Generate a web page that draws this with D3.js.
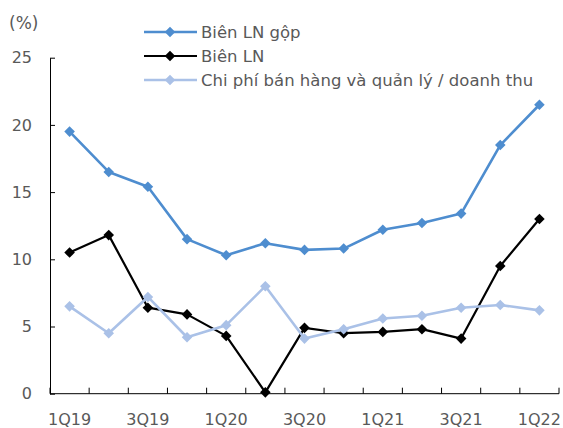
<!DOCTYPE html>
<html>
<head>
<meta charset="utf-8">
<script src="https://cdn.jsdelivr.net/npm/d3@7"></script>
<style>
  html, body { margin: 0; padding: 0; background: #fff; }
  svg text { font-family: "DejaVu Sans", Verdana, sans-serif; }
</style>
</head>
<body>
<svg id="chart" width="563" height="428"></svg>
<script>
// Quarterly margins (%)
const quarters = ["1Q19","2Q19","3Q19","4Q19","1Q20","2Q20","3Q20","4Q20","1Q21","2Q21","3Q21","4Q21","1Q22"];
const grossMargin = [19.5, 16.5, 15.4, 11.5, 10.3, 11.2, 10.7, 10.8, 12.2, 12.7, 13.4, 18.5, 21.5];
const netMargin   = [10.5, 11.8, 6.4, 5.9, 4.3, 0.1, 4.9, 4.5, 4.6, 4.8, 4.1, 9.5, 13.0];
const sgaRatio    = [6.5, 4.5, 7.2, 4.2, 5.1, 8.0, 4.1, 4.8, 5.6, 5.8, 6.4, 6.6, 6.2];
const yTicks = [0, 5, 10, 15, 20, 25];
const xTickLabels = ["1Q19","3Q19","1Q20","3Q20","1Q21","3Q21","1Q22"];

const series = [
  { name: "Biên LN gộp", values: grossMargin, color: "#4e8dcf", width: 2.6 },
  { name: "Biên LN", values: netMargin, color: "#000000", width: 2.2 },
  { name: "Chi phí bán hàng và quản lý / doanh thu", values: sgaRatio, color: "#aac1e7", width: 2.6 }
];

const svg = d3.select("#chart");
const plotLeft = 50, plotRight = 559, plotTop = 57.7, plotBottom = 393.7;

const x = d3.scaleBand().domain(quarters).range([plotLeft, plotRight]).padding(0);
const y = d3.scaleLinear().domain([0, 25]).range([plotBottom, plotTop]);

const textColor = "#595959";

// Y axis
const yAxis = svg.append("g").attr("transform", `translate(${plotLeft},0)`)
  .call(d3.axisLeft(y).tickValues(yTicks).tickSizeInner(-5).tickSizeOuter(0).tickPadding(18));
yAxis.select(".domain").attr("stroke", "#000").attr("stroke-width", 1);
yAxis.selectAll(".tick line").attr("stroke", "#000");
yAxis.selectAll(".tick text").attr("fill", textColor).style("font-size", "16px")
  .attr("font-family", "DejaVu Sans");

// X axis: ticks on category boundaries, labels on every other category
const xg = svg.append("g").attr("transform", `translate(0,${plotBottom})`);
xg.append("line").attr("x1", plotLeft).attr("x2", plotRight).attr("y1", 0).attr("y2", 0)
  .attr("stroke", "#000").attr("stroke-width", 1);
const boundaries = quarters.map(q => x(q)).concat([x(quarters[quarters.length - 1]) + x.bandwidth()]);
xg.selectAll("line.tk").data(boundaries).join("line").attr("class", "tk")
  .attr("x1", d => d).attr("x2", d => d).attr("y1", 0).attr("y2", -6)
  .attr("stroke", "#000").attr("stroke-width", 1);
xg.selectAll("text").data(xTickLabels).join("text")
  .attr("x", d => x(d) + x.bandwidth() / 2)
  .attr("y", 31)
  .attr("text-anchor", "middle")
  .attr("fill", textColor)
  .style("font-size", "16px")
  .text(d => d);

// Unit label
svg.append("text").attr("x", 9).attr("y", 29).attr("fill", textColor)
  .style("font-size", "17px").text("(%)");

const line = d3.line().x((d, i) => x(quarters[i]) + x.bandwidth() / 2).y(d => y(d));
// Square marker turned 45° so it reads as an even diamond
const marker = d3.symbol().type(d3.symbolSquare).size(56);

series.forEach(s => {
  const g = svg.append("g");
  g.append("path").datum(s.values).attr("d", line)
    .attr("fill", "none").attr("stroke", s.color).attr("stroke-width", s.width)
    .attr("stroke-linejoin", "round");
  g.selectAll("path.m").data(s.values).join("path").attr("class", "m")
    .attr("transform", (d, i) => `translate(${x(quarters[i]) + x.bandwidth() / 2},${y(d)}) rotate(45)`)
    .attr("d", marker)
    .attr("fill", s.color);
});

// Legend
const legend = svg.append("g");
series.forEach((s, i) => {
  const ly = 32 + i * 24;
  legend.append("line").attr("x1", 144).attr("x2", 197).attr("y1", ly).attr("y2", ly)
    .attr("stroke", s.color).attr("stroke-width", s.width);
  legend.append("path").attr("transform", `translate(170,${ly}) rotate(45)`)
    .attr("d", marker).attr("fill", s.color);
  legend.append("text").attr("x", 201).attr("y", ly + 6).attr("fill", textColor)
    .style("font-size", "16.5px").text(s.name);
});
</script>
</body>
</html>
